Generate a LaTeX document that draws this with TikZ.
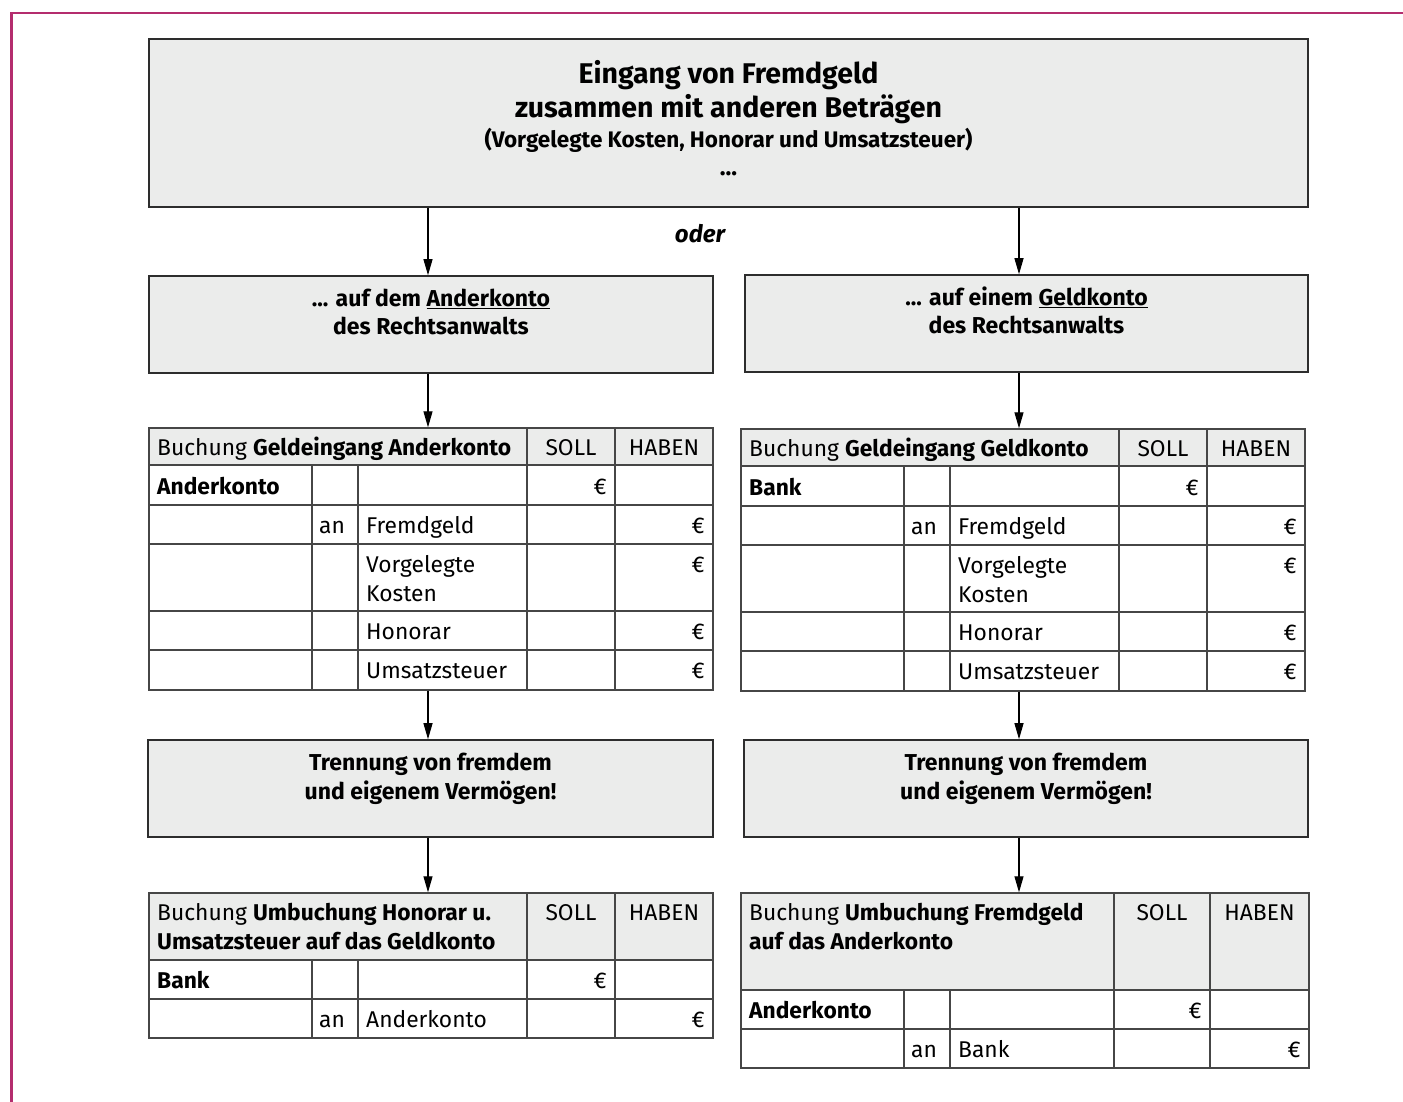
\documentclass[tikz,border=0pt]{standalone}
\usepackage{fontspec}
\setmainfont{Fira Sans}
\usetikzlibrary{arrows.meta}
\definecolor{framecol}{RGB}{180,45,110}
\definecolor{boxfill}{RGB}{235,236,235}
\definecolor{boxline}{RGB}{45,45,45}
\definecolor{tblline}{RGB}{70,70,70}
\newcommand\myfs[1]{\fontsize{#1}{#1}\selectfont}
\newcommand\BookTableA[3]{%
  \fill[boxfill] (149,428) rectangle (713,465);
  \node[tbl,minimum width=564pt,minimum height=262pt] (#1) at (431,559) {};
  \foreach \yy in {465,505,544,611,650} \draw[tline] (149,\yy) -- (713,\yy);
  \draw[tline] (527,428) -- (527,690) (615,428) -- (615,690)
               (312,465) -- (312,690) (358,465) -- (358,690);
  \node[cell] (#1h) at (157,455) {Buchung \textbf{#2}};
  \node[cellc] (#1s) at (571,455) {SOLL};
  \node[cellc] (#1hb) at (664,455) {HABEN};
  \node[cell] (#1a) at (157,494) {\textbf{#3}};
  \node[eur] (#1e1) at (607,494) {€};
  \node[cell] (#1an) at (319,533) {an};
  \node[cell] (#1f) at (366,533) {Fremdgeld};
  \node[eur] (#1e2) at (705,533) {€};
  \node[cell] (#1v1) at (366,572) {Vorgelegte};
  \node[cell] (#1v2) at (366,601) {Kosten};
  \node[eur] (#1e3) at (705,572) {€};
  \node[cell] (#1ho) at (366,639) {Honorar};
  \node[eur] (#1e4) at (705,639) {€};
  \node[cell] (#1u) at (366,678) {Umsatzsteuer};
  \node[eur] (#1e5) at (705,678) {€};
}
\begin{document}
\begin{tikzpicture}[x=1pt,y=-1pt,
  box/.style={draw=boxline,fill=boxfill,line width=1.6pt,inner sep=0pt},
  tbl/.style={draw=tblline,line width=1.4pt,inner sep=0pt},
  tline/.style={draw=tblline,line width=1.4pt},
  arr/.style={-{Triangle[length=16pt,width=9pt]},line width=1.1pt,black},
  btxt/.style={inner sep=0pt,anchor=base,font=\myfs{23}\bfseries},
  cell/.style={inner sep=0pt,anchor=base west,font=\myfs{22.8}},
  cellc/.style={inner sep=0pt,anchor=base,font=\myfs{22.8}},
  eur/.style={inner sep=0pt,anchor=base east,font=\myfs{22.8}}]
\useasboundingbox (0,0) rectangle (1403,1102);
\fill[white] (0,0) rectangle (1403,1102);
\draw[framecol,line width=2.8pt] (1403,13) -- (11.5,13) -- (11.5,1102);

% top box
\node[box,minimum width=1159pt,minimum height=168pt] (top) at (728.5,123) {};
\node[btxt,font=\myfs{28.5}\bfseries] (t1) at (728.5,84) {Eingang von Fremdgeld};
\node[btxt,font=\myfs{28.5}\bfseries] (t2) at (728.5,118) {zusammen mit anderen Beträgen};
\node[btxt,font=\myfs{22.5}\bfseries] (t3) at (728.5,148) {(Vorgelegte Kosten, Honorar und Umsatzsteuer)};
\node[btxt,font=\myfs{24}\bfseries] (t4) at (728.5,176) {...};
\node[btxt,font=\myfs{24}\bfseries\itshape] (oder) at (700,243) {oder};

% second level boxes
\node[box,minimum width=564pt,minimum height=97pt] (L2) at (431,324.5) {};
\node[btxt] (L2a) at (431,306) {... auf dem \underline{Anderkonto}};
\node[btxt] (L2b) at (431,334) {des Rechtsanwalts};
\node[box,minimum width=563pt,minimum height=97pt] (R2) at (1026.5,323.5) {};
\node[btxt] (R2a) at (1026.5,305) {... auf einem \underline{Geldkonto}};
\node[btxt] (R2b) at (1026.5,333) {des Rechtsanwalts};

% booking tables 1
\BookTableA{TL}{Geldeingang Anderkonto}{Anderkonto}
\begin{scope}[shift={(592,1)}]
\BookTableA{TR}{Geldeingang Geldkonto}{Bank}
\end{scope}

% Trennung boxes
\node[box,minimum width=565pt,minimum height=97pt] (L3) at (430.5,788.5) {};
\node[btxt] (L3a) at (430.5,770) {Trennung von fremdem};
\node[btxt] (L3b) at (430.5,799) {und eigenem Vermögen!};
\node[box,minimum width=564pt,minimum height=97pt] (R3) at (1026,788.5) {};
\node[btxt] (R3a) at (1026,770) {Trennung von fremdem};
\node[btxt] (R3b) at (1026,799) {und eigenem Vermögen!};

% booking table 2 left
\fill[boxfill] (149,893) rectangle (713,960);
\node[tbl,minimum width=564pt,minimum height=145pt] (UL) at (431,965.5) {};
\draw[tline] (149,960) -- (713,960) (149,999) -- (713,999)
             (527,893) -- (527,1038) (615,893) -- (615,1038)
             (312,960) -- (312,1038) (358,960) -- (358,1038);
\node[cell] (ULh1) at (157,920) {Buchung \textbf{Umbuchung Honorar u.}};
\node[cell] (ULh2) at (157,949) {\textbf{Umsatzsteuer auf das Geldkonto}};
\node[cellc] (ULs) at (571,920) {SOLL};
\node[cellc] (ULhb) at (664,920) {HABEN};
\node[cell] (ULa) at (157,988) {\textbf{Bank}};
\node[eur] (ULe1) at (607,988) {€};
\node[cell] (ULan) at (319,1027) {an};
\node[cell] (ULk) at (366,1027) {Anderkonto};
\node[eur] (ULe2) at (705,1027) {€};

% booking table 2 right
\fill[boxfill] (741,893) rectangle (1309,990);
\node[tbl,minimum width=568pt,minimum height=175pt] (UR) at (1025,980.5) {};
\draw[tline] (741,990) -- (1309,990) (741,1029) -- (1309,1029)
             (1114,893) -- (1114,1068) (1210,893) -- (1210,1068)
             (904,990) -- (904,1068) (950,990) -- (950,1068);
\node[cell] (URh1) at (749,920) {Buchung \textbf{Umbuchung Fremdgeld}};
\node[cell] (URh2) at (749,949) {\textbf{auf das Anderkonto}};
\node[cellc] (URs) at (1162,920) {SOLL};
\node[cellc] (URhb) at (1259.5,920) {HABEN};
\node[cell] (URa) at (749,1018) {\textbf{Anderkonto}};
\node[eur] (URe1) at (1202,1018) {€};
\node[cell] (URan) at (911,1057) {an};
\node[cell] (URk) at (958,1057) {Bank};
\node[eur] (URe2) at (1301,1057) {€};

% arrows
\coordinate (xl) at (428,0);
\coordinate (xr) at (1019,0);
\draw[arr] (top.south -| xl) -- (L2.north -| xl);
\draw[arr] (top.south -| xr) -- (R2.north -| xr);
\draw[arr] (L2.south -| xl) -- (TL.north -| xl);
\draw[arr] (R2.south -| xr) -- (TR.north -| xr);
\draw[arr] (TL.south -| xl) -- (L3.north -| xl);
\draw[arr] (TR.south -| xr) -- (R3.north -| xr);
\draw[arr] (L3.south -| xl) -- (UL.north -| xl);
\draw[arr] (R3.south -| xr) -- (UR.north -| xr);
\end{tikzpicture}
\end{document}
